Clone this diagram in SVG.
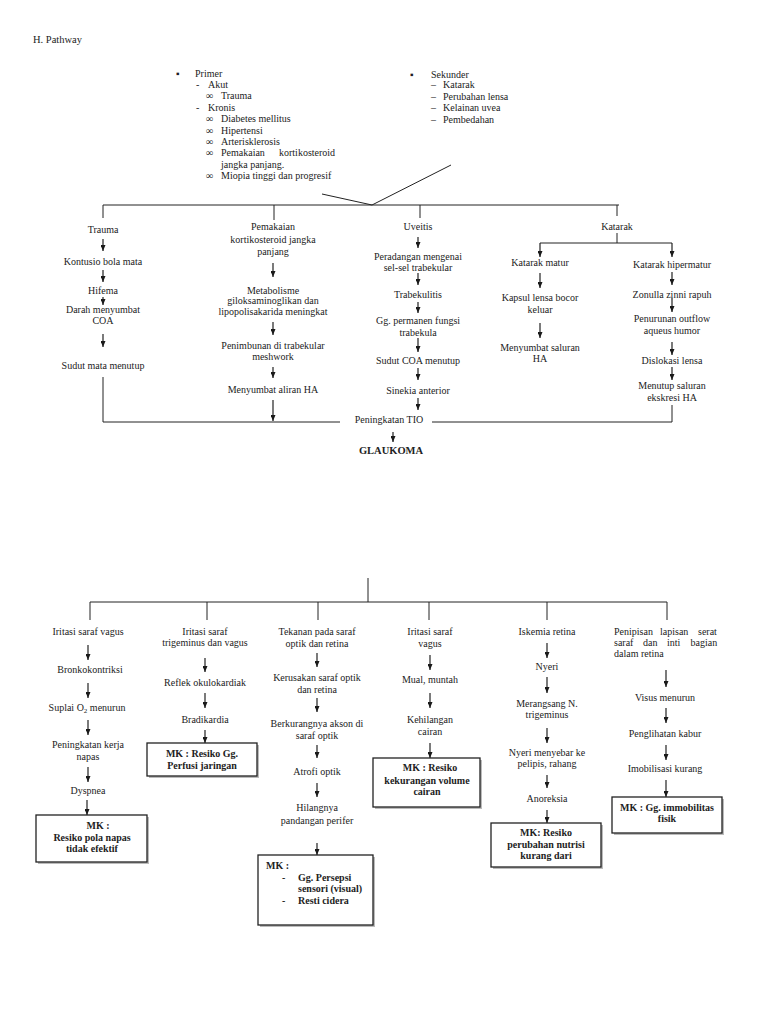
<svg xmlns="http://www.w3.org/2000/svg" width="768" height="1024" viewBox="0 0 768 1024">
<defs>
<marker id="ah" viewBox="0 0 6 5" refX="6" refY="2.5" markerWidth="6" markerHeight="5" markerUnits="userSpaceOnUse" orient="auto">
<path d="M0,0 L6,2.5 L0,5 z" fill="#1a1a1a"/>
</marker>
<style>
text{font-family:"Liberation Serif","Times New Roman",serif;font-size:10px;fill:#222}
.c{text-anchor:middle}
.e{text-anchor:end}
.b{font-weight:bold}
.sym{font-size:10px;font-weight:bold}
.ln{stroke:#222;stroke-width:1;fill:none}
.ar{stroke:#222;stroke-width:1.2;fill:none;marker-end:url(#ah)}
.box{fill:#fff;stroke:#222;stroke-width:1.3}
.sh{fill:#bbb}
</style>
</defs>
<rect width="768" height="1024" fill="#fff"/>

<g id="title"><text x="33" y="43" style="font-size:10.5px">H. Pathway</text></g>

<g id="primer">
<text x="176" y="76.5">▪</text>
<text x="195" y="76.5">Primer</text>
<text x="196" y="87.9">-</text><text x="208" y="87.9">Akut</text>
<text x="206" y="99.3" class="sym">∞</text><text x="221" y="99.3">Trauma</text>
<text x="196" y="110.7">-</text><text x="208" y="110.7">Kronis</text>
<text x="206" y="122.1" class="sym">∞</text><text x="221" y="122.1">Diabetes mellitus</text>
<text x="206" y="133.5" class="sym">∞</text><text x="221" y="133.5">Hipertensi</text>
<text x="206" y="144.9" class="sym">∞</text><text x="221" y="144.9">Arterisklerosis</text>
<text x="206" y="156.3" class="sym">∞</text><text y="156.3"><tspan x="221">Pemakaian</tspan><tspan x="279">kortikosteroid</tspan></text>
<text x="221" y="167.7">jangka panjang.</text>
<text x="206" y="179.1" class="sym">∞</text><text x="221" y="179.1">Miopia tinggi dan progresif</text>
</g>

<g id="sekunder">
<text x="410" y="77.5">▪</text>
<text x="431" y="77.5">Sekunder</text>
<text x="431" y="88">–</text><text x="443" y="88">Katarak</text>
<text x="431" y="99.5">–</text><text x="443" y="99.5">Perubahan lensa</text>
<text x="431" y="111">–</text><text x="443" y="111">Kelainan uvea</text>
<text x="431" y="122.5">–</text><text x="443" y="122.5">Pembedahan</text>
</g>

<g id="connectors">
<path class="ln" d="M322,194 L372,205 L451,165"/>
<path class="ln" d="M103,205 H619 M103,205 V218 M274,205 V220 M420,205 V218 M617,205 V216"/>
<path class="ln" d="M617,233 V243 M540,243 H672"/>
<line class="ar" x1="540" y1="243" x2="540" y2="257"/>
<line class="ar" x1="672" y1="243" x2="672" y2="257"/>
<line class="ar" x1="103" y1="239" x2="103" y2="251"/>
<line class="ar" x1="103" y1="270" x2="103" y2="282"/>
<line class="ar" x1="103" y1="297" x2="103" y2="305"/>
<line class="ar" x1="103" y1="334" x2="103" y2="347"/>
<path class="ln" d="M103,377 V422 H340"/>
<line class="ar" x1="273" y1="263" x2="273" y2="277"/>
<line class="ar" x1="273" y1="322" x2="273" y2="335"/>
<line class="ar" x1="273" y1="367" x2="273" y2="378"/>
<line class="ar" x1="273" y1="400" x2="273" y2="421"/>
<line class="ar" x1="418" y1="237" x2="418" y2="248"/>
<line class="ar" x1="418" y1="273" x2="418" y2="285"/>
<line class="ar" x1="418" y1="302" x2="418" y2="313"/>
<line class="ar" x1="418" y1="338" x2="418" y2="352"/>
<line class="ar" x1="418" y1="368" x2="418" y2="380"/>
<line class="ar" x1="418" y1="398" x2="418" y2="410"/>
<line class="ar" x1="393" y1="432" x2="393" y2="442"/>
<line class="ar" x1="540" y1="273" x2="540" y2="288"/>
<line class="ar" x1="540" y1="323" x2="540" y2="338"/>
<line class="ar" x1="672" y1="272" x2="672" y2="285"/>
<line class="ar" x1="672" y1="298" x2="672" y2="312"/>
<line class="ar" x1="672" y1="342" x2="672" y2="355"/>
<line class="ar" x1="672" y1="367" x2="672" y2="380"/>
<path class="ln" d="M672,405 V422 H432"/>
<path class="ln" d="M368,578 V602 M90,602 H667 M90,602 V620 M207,602 V620 M318,602 V620 M429,602 V620 M547,602 V620 M667,602 V620"/>
<line class="ar" x1="88" y1="645" x2="88" y2="660"/>
<line class="ar" x1="88" y1="683" x2="88" y2="698"/>
<line class="ar" x1="88" y1="720" x2="88" y2="735"/>
<line class="ar" x1="88" y1="767" x2="88" y2="782"/>
<line class="ar" x1="87" y1="800" x2="87" y2="815"/>
<line class="ar" x1="205" y1="658" x2="205" y2="672"/>
<line class="ar" x1="205" y1="693" x2="205" y2="708"/>
<line class="ar" x1="205" y1="730" x2="205" y2="743"/>
<line class="ar" x1="317" y1="653" x2="317" y2="667"/>
<line class="ar" x1="317" y1="698" x2="317" y2="712"/>
<line class="ar" x1="317" y1="745" x2="317" y2="758"/>
<line class="ar" x1="317" y1="783" x2="317" y2="797"/>
<line class="ar" x1="317" y1="843" x2="317" y2="855"/>
<line class="ar" x1="430" y1="655" x2="430" y2="670"/>
<line class="ar" x1="430" y1="693" x2="430" y2="708"/>
<line class="ar" x1="430" y1="743" x2="430" y2="758"/>
<line class="ar" x1="547" y1="643" x2="547" y2="658"/>
<line class="ar" x1="547" y1="677" x2="547" y2="693"/>
<line class="ar" x1="547" y1="728" x2="547" y2="743"/>
<line class="ar" x1="547" y1="775" x2="547" y2="788"/>
<line class="ar" x1="547" y1="810" x2="547" y2="823"/>
<line class="ar" x1="666" y1="670" x2="666" y2="687"/>
<line class="ar" x1="666" y1="708" x2="666" y2="723"/>
<line class="ar" x1="666" y1="745" x2="666" y2="760"/>
<line class="ar" x1="666" y1="780" x2="666" y2="797"/>
</g>

<g id="n-trauma"><text class="c" x="103" y="232.5">Trauma</text></g>
<g id="n-kontusio"><text class="c" x="103" y="265">Kontusio bola mata</text></g>
<g id="n-hifema"><text class="c" x="103" y="293.5">Hifema</text></g>
<g id="n-darah"><text class="c" x="103" y="312.5">Darah menyumbat</text><text class="c" x="103" y="323.5">COA</text></g>
<g id="n-sudutmata"><text class="c" x="103" y="369">Sudut mata menutup</text></g>

<g id="n-pemakaian"><text class="c" x="273" y="229.5">Pemakaian</text><text class="c" x="273" y="242.5">kortikosteroid jangka</text><text class="c" x="273" y="255">panjang</text></g>
<g id="n-metabolisme"><text class="c" x="273" y="293.5">Metabolisme</text><text class="c" x="273" y="304">giloksaminoglikan dan</text><text class="c" x="273" y="315">lipopolisakarida meningkat</text></g>
<g id="n-penimbunan"><text class="c" x="273" y="348.5">Penimbunan di trabekular</text><text class="c" x="273" y="360">meshwork</text></g>
<g id="n-menyumbatha"><text class="c" x="273" y="392.5">Menyumbat aliran HA</text></g>

<g id="n-uveitis"><text class="c" x="418" y="229.5">Uveitis</text></g>
<g id="n-peradangan"><text class="c" x="418" y="259.5">Peradangan mengenai</text><text class="c" x="418" y="270.5">sel-sel trabekular</text></g>
<g id="n-trabekulitis"><text class="c" x="418" y="297.5">Trabekulitis</text></g>
<g id="n-ggpermanen"><text class="c" x="418" y="323.5">Gg. permanen fungsi</text><text class="c" x="418" y="335.5">trabekula</text></g>
<g id="n-sudutcoa"><text class="c" x="418" y="364">Sudut COA menutup</text></g>
<g id="n-sinekia"><text class="c" x="418" y="393.5">Sinekia anterior</text></g>
<g id="n-tio"><text class="c" x="389" y="422.5">Peningkatan TIO</text></g>
<g id="n-glaukoma"><text class="c b" x="391" y="454" style="font-size:10.5px">GLAUKOMA</text></g>

<g id="n-katarak"><text class="c" x="617" y="229.5">Katarak</text></g>
<g id="n-matur"><text class="c" x="540" y="266">Katarak matur</text></g>
<g id="n-kapsul"><text class="c" x="540" y="300.5">Kapsul lensa bocor</text><text class="c" x="540" y="312.5">keluar</text></g>
<g id="n-menyumbatsal"><text class="c" x="540" y="350.5">Menyumbat saluran</text><text class="c" x="540" y="361.5">HA</text></g>
<g id="n-hipermatur"><text class="c" x="672" y="267.5">Katarak hipermatur</text></g>
<g id="n-zonulla"><text class="c" x="672" y="297.5">Zonulla zinni rapuh</text></g>
<g id="n-penurunan"><text class="c" x="672" y="321.5">Penurunan outflow</text><text class="c" x="672" y="333.5">aqueus humor</text></g>
<g id="n-dislokasi"><text class="c" x="672" y="364">Dislokasi lensa</text></g>
<g id="n-menutup"><text class="c" x="672" y="388.5">Menutup saluran</text><text class="c" x="672" y="400.5">ekskresi HA</text></g>

<g id="b-vagus1"><text class="c" x="88" y="634.5">Iritasi saraf vagus</text></g>
<g id="b-bronko"><text class="c" x="90" y="672.5">Bronkokontriksi</text></g>
<g id="b-suplai"><text class="c" x="87" y="710.5">Suplai O<tspan style="font-size:7px" dy="2">2</tspan><tspan dy="-2"> menurun</tspan></text></g>
<g id="b-kerja"><text class="c" x="88" y="747.5">Peningkatan kerja</text><text class="c" x="88" y="759.5">napas</text></g>
<g id="b-dyspnea"><text class="c" x="88" y="793.5">Dyspnea</text></g>
<g id="b-mk1"><rect class="sh" x="38" y="817" width="111" height="47"/><rect class="box" x="36" y="815" width="111" height="47"/>
<text class="c b" x="98" y="828.5">MK :</text><text class="c b" x="92" y="840.5">Resiko pola napas</text><text class="c b" x="92" y="851.5">tidak efektif</text></g>

<g id="b-trigem"><text class="c" x="205" y="634.5">Iritasi saraf</text><text class="c" x="205" y="645.5">trigeminus dan vagus</text></g>
<g id="b-reflek"><text class="c" x="205" y="685.5">Reflek okulokardiak</text></g>
<g id="b-bradi"><text class="c" x="205" y="722.5">Bradikardia</text></g>
<g id="b-mk2"><rect class="sh" x="149" y="745" width="110" height="33"/><rect class="box" x="147" y="743" width="110" height="33"/>
<text class="c b" x="202" y="756.5">MK : Resiko Gg.</text><text class="c b" x="202" y="768.5">Perfusi jaringan</text></g>

<g id="b-tekanan"><text class="c" x="317" y="634.5">Tekanan pada saraf</text><text class="c" x="317" y="646.5">optik dan retina</text></g>
<g id="b-kerusakan"><text class="c" x="317" y="680.5">Kerusakan saraf optik</text><text class="c" x="317" y="692.5">dan retina</text></g>
<g id="b-berkurang"><text class="c" x="317" y="726.5">Berkurangnya akson di</text><text class="c" x="317" y="738.5">saraf optik</text></g>
<g id="b-atrofi"><text class="c" x="317" y="774.5">Atrofi optik</text></g>
<g id="b-hilang"><text class="c" x="317" y="810.5">Hilangnya</text><text class="c" x="317" y="823.5">pandangan perifer</text></g>
<g id="b-mk3"><rect class="sh" x="260" y="857" width="115" height="70"/><rect class="box" x="258" y="855" width="115" height="70"/>
<text class="b" x="266" y="868.5">MK :</text>
<text class="b" x="282" y="880.5">-</text><text class="b" x="298" y="880.5">Gg. Persepsi</text>
<text class="b" x="298" y="891.5">sensori (visual)</text>
<text class="b" x="282" y="903.5">-</text><text class="b" x="298" y="903.5">Resti cidera</text></g>

<g id="b-vagus2"><text class="c" x="430" y="634.5">Iritasi saraf</text><text class="c" x="430" y="646.5">vagus</text></g>
<g id="b-mual"><text class="c" x="430" y="682.5">Mual, muntah</text></g>
<g id="b-kehilangan"><text class="c" x="430" y="722.5">Kehilangan</text><text class="c" x="430" y="734.5">cairan</text></g>
<g id="b-mk4"><rect class="sh" x="375" y="760" width="107" height="49"/><rect class="box" x="373" y="758" width="107" height="49"/>
<text class="c b" x="430" y="770.5">MK : Resiko</text><text class="c b" x="427" y="783.5">kekurangan volume</text><text class="c b" x="427" y="794.5">cairan</text></g>

<g id="b-iskemia"><text class="c" x="547" y="634.5">Iskemia retina</text></g>
<g id="b-nyeri"><text class="c" x="547" y="669.5">Nyeri</text></g>
<g id="b-merangsang"><text class="c" x="547" y="706.5">Merangsang N.</text><text class="c" x="547" y="717.5">trigeminus</text></g>
<g id="b-menyebar"><text class="c" x="547" y="755.5">Nyeri menyebar ke</text><text class="c" x="547" y="766.5">pelipis, rahang</text></g>
<g id="b-anoreksia"><text class="c" x="547" y="801.5">Anoreksia</text></g>
<g id="b-mk5"><rect class="sh" x="493" y="825" width="110" height="44"/><rect class="box" x="491" y="823" width="110" height="44"/>
<text class="c b" x="546" y="835.5">MK: Resiko</text><text class="c b" x="546" y="848">perubahan nutrisi</text><text class="c b" x="546" y="859">kurang dari</text></g>

<g id="b-penipisan"><text y="634.5"><tspan x="614">Penipisan</tspan><tspan x="660">lapisan</tspan><tspan x="698">serat</tspan></text>
<text y="645.5"><tspan x="614">saraf</tspan><tspan x="643">dan</tspan><tspan x="667">inti</tspan><tspan x="690.5">bagian</tspan></text>
<text x="614" y="656.5">dalam retina</text></g>
<g id="b-visus"><text class="c" x="665" y="700.5">Visus menurun</text></g>
<g id="b-penglihatan"><text class="c" x="665" y="736.5">Penglihatan kabur</text></g>
<g id="b-imobilisasi"><text class="c" x="665" y="771.5">Imobilisasi kurang</text></g>
<g id="b-mk6"><rect class="sh" x="614" y="799" width="110" height="36"/><rect class="box" x="612" y="797" width="110" height="36"/>
<text class="c b" x="667" y="810.5">MK : Gg. immobilitas</text><text class="c b" x="667" y="821.5">fisik</text></g>
</svg>
